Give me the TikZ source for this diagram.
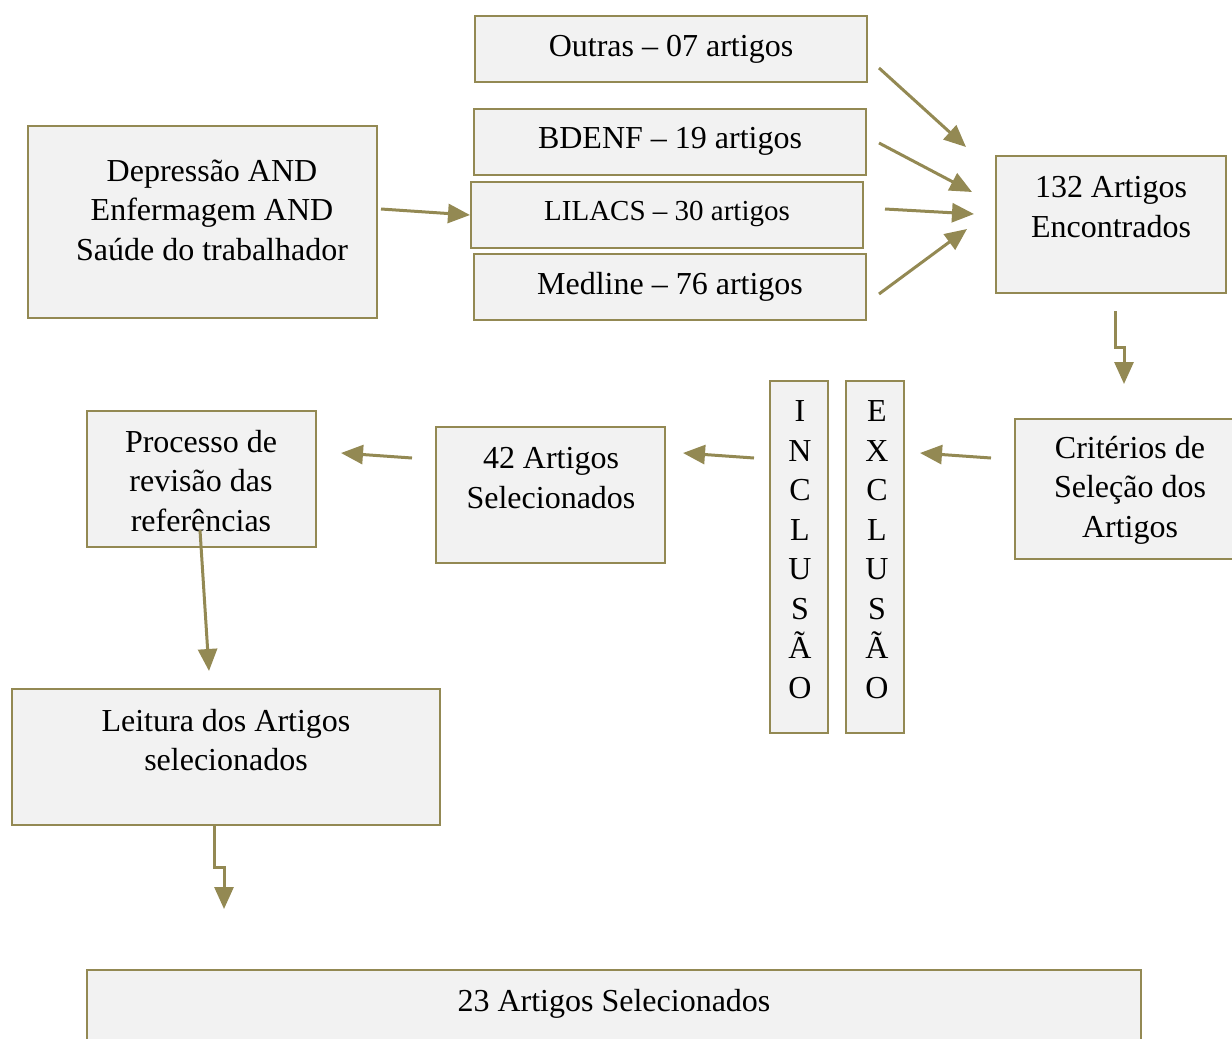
\documentclass[tikz,border=0pt]{standalone}
\usepackage{fontspec}
\setmainfont{Liberation Serif}
\usetikzlibrary{arrows.meta}
\definecolor{olivebd}{HTML}{938953}
\definecolor{boxfill}{HTML}{F2F2F2}
\begin{document}
\begin{tikzpicture}[x=1pt,y=-1pt,
  boxr/.style={draw=olivebd, fill=boxfill, line width=2.2pt, inner sep=0pt},
  txt/.style={font=\fontsize{32}{39.5}\selectfont, align=center, inner sep=0pt},
  arr/.style={draw=olivebd, line width=3pt, -{Triangle[length=22pt,width=19pt]}}]
\useasboundingbox (0,0) rectangle (1232,1039);
% boxes
\node[boxr, minimum width=392, minimum height=66] (outras) at (671,49) {};
\node[boxr, minimum width=392, minimum height=66] (bdenf) at (670,142) {};
\node[boxr, minimum width=392, minimum height=66] (lilacs) at (667,215) {};
\node[boxr, minimum width=392, minimum height=66] (medline) at (670,287) {};
\node[boxr, minimum width=349, minimum height=192] (dep) at (202.5,222) {};
\node[boxr, minimum width=230, minimum height=137] (enc) at (1111,224.5) {};
\node[boxr, minimum width=230, minimum height=140] (crit) at (1130,489) {};
\node[boxr, minimum width=58, minimum height=352] (incl) at (799,557) {};
\node[boxr, minimum width=58, minimum height=352] (excl) at (875,557) {};
\node[boxr, minimum width=229, minimum height=136] (sel) at (550.5,495) {};
\node[boxr, minimum width=229, minimum height=136] (proc) at (201.5,479) {};
\node[boxr, minimum width=428, minimum height=136] (leit) at (226,757) {};
\node[boxr, minimum width=1054, minimum height=84] (final) at (614,1012) {};
% texts
\node[txt] (toutras) at (671,49) {Outras -- 07 artigos};
\node[txt] (tbdenf) at (670,141) {BDENF -- 19 artigos};
\node[txt, font=\fontsize{29}{35}\selectfont] (tlilacs) at (667,214) {LILACS -- 30 artigos};
\node[txt] (tmedline) at (670,287) {Medline -- 76 artigos};
\node[txt] (tdep) at (212,210) {Depressão AND\\Enfermagem AND\\Saúde do trabalhador};
\node[txt] (tenc) at (1111,207) {132 Artigos\\Encontrados};
\node[txt] (tcrit) at (1130,490) {Critérios de\\Seleção dos\\Artigos};
\node[txt] (tincl) at (800,549.5) {I\\N\\C\\L\\U\\S\\Ã\\O};
\node[txt] (texcl) at (877,549.5) {E\\X\\C\\L\\U\\S\\Ã\\O};
\node[txt] (tsel) at (551,478) {42 Artigos\\Selecionados};
\node[txt] (tproc) at (201,481) {Processo de\\revisão das\\referências};
\node[txt] (tleit) at (226,740) {Leitura dos Artigos\\selecionados};
\node[txt] (tfinal) at (614,1004) {23 Artigos Selecionados};
% connector end points
\coordinate (a1s) at (381,209); \coordinate (a1e) at (470,215);
\coordinate (a2s) at (879,68);  \coordinate (a2e) at (966,147);
\coordinate (a3s) at (879,143); \coordinate (a3e) at (972,192);
\coordinate (a4s) at (885,209); \coordinate (a4e) at (974,214);
\coordinate (a5s) at (879,294); \coordinate (a5e) at (967,229);
\coordinate (b1) at (1115,311); \coordinate (b2) at (1115,347);
\coordinate (b3) at (1124,347); \coordinate (b4) at (1124,384);
\coordinate (c1s) at (991,458); \coordinate (c1e) at (920,453);
\coordinate (c2s) at (754,458); \coordinate (c2e) at (683,453);
\coordinate (c3s) at (412,458); \coordinate (c3e) at (341,453);
\coordinate (d1s) at (200,530); \coordinate (d1e) at (209,671);
\coordinate (e1) at (214,826); \coordinate (e2) at (214,867);
\coordinate (e3) at (224,867); \coordinate (e4) at (224,909);
% connectors
\draw[arr] (a1s) -- (a1e);
\draw[arr] (a2s) -- (a2e);
\draw[arr] (a3s) -- (a3e);
\draw[arr] (a4s) -- (a4e);
\draw[arr] (a5s) -- (a5e);
\draw[arr] (b1) -- (b2) -- (b3) -- (b4);
\draw[arr] (c1s) -- (c1e);
\draw[arr] (c2s) -- (c2e);
\draw[arr] (c3s) -- (c3e);
\draw[arr] (d1s) -- (d1e);
\draw[arr] (e1) -- (e2) -- (e3) -- (e4);
\end{tikzpicture}
\end{document}
